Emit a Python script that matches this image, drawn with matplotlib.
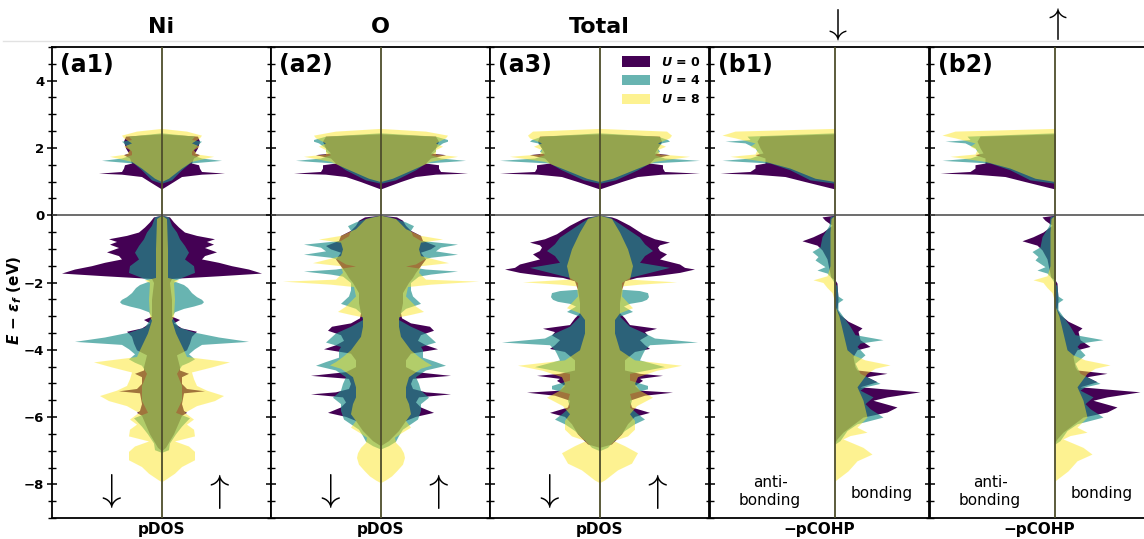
import matplotlib
matplotlib.use('Agg')
import matplotlib.pyplot as plt
from matplotlib.patches import Patch
from matplotlib.lines import Line2D
from matplotlib.ticker import MultipleLocator

plt.rcParams['mathtext.fontset'] = 'custom'
plt.rcParams['mathtext.rm'] = 'DejaVu Sans:bold'
plt.rcParams['mathtext.it'] = 'DejaVu Sans:italic:bold'
plt.rcParams['mathtext.bf'] = 'DejaVu Sans:bold'

# ---------------- data (energies in eV, DOS / COHP in arbitrary units) ----------------
U_VALUES = [0, 4, 8]
COLORS = ['#440154', '#21918c', '#fde725']
ALPHAS = [1.0, 0.68, 0.5]

# conduction band energy grids (shared by the panels)
CB_E0 = [2.42, 2.35, 2.2, 2.0, 1.85, 1.8, 1.7, 1.55, 1.5, 1.4, 1.3, 1.25, 1.22, 1.15, 1.0, 0.78]
CB_E4 = [2.45, 2.35, 2.25, 2.2, 2.15, 2.0, 1.9, 1.8, 1.7, 1.63, 1.55, 1.35, 1.05, 0.95]
CB_E8 = [2.58, 2.5, 2.38, 2.3, 2.15, 2.05, 1.95, 1.82, 1.75, 1.6, 1.4, 1.1, 1.0]

# --- Ni pDOS
NI_CB0 = [0, 36, 38, 36, 33, 38, 32, 30, 37, 38, 40, 63, 40, 20, 12, 0]
NI_CB4 = [0, 33, 30, 40, 38, 33, 30, 30, 40, 60, 28, 20, 10, 0]
NI_CB8 = [0, 25, 40, 38, 30, 38, 32, 35, 52, 30, 20, 7, 0]
NI_VB_E0 = [0.0, -0.05, -0.2, -0.35, -0.5, -0.6, -0.7, -0.78, -0.86, -0.96, -1.09, -1.2, -1.3, -1.4, -1.5,
            -1.6, -1.72, -1.8, -1.88, -2.0, -2.5, -3.0, -3.1, -3.2, -3.35, -3.45, -3.6, -3.8, -4.0, -4.15,
            -4.5, -4.6, -4.7, -4.8, -5.0, -5.15, -5.22, -5.28, -5.6, -5.8, -5.86, -5.95, -6.5, -6.9, -7.0]
NI_VB0 = [0, 8, 12, 17, 23, 35, 53, 45, 52, 43, 55, 43, 40, 57, 70,
          87, 100, 57, 10, 8, 10, 10, 18, 12, 20, 35, 30, 28, 25, 15,
          18, 18, 27, 20, 20, 25, 43, 22, 20, 22, 25, 20, 12, 4, 0]
NI_VB_E4 = [0.0, -0.05, -0.3, -0.5, -0.7, -0.9, -1.1, -1.3, -1.5, -1.7, -1.85, -1.95, -2.06, -2.15, -2.3,
            -2.42, -2.5, -2.57, -2.63, -2.7, -2.77, -2.87, -3.02, -3.32, -3.47, -3.62, -3.75, -3.84, -3.97,
            -4.12, -4.27, -4.37, -4.46, -4.7, -5.06, -5.5, -5.86, -6.02, -6.27, -6.5, -6.77, -6.97, -7.05]
NI_VB4 = [0, 7, 10, 15, 18, 23, 27, 23, 32, 33, 20, 12, 22, 26, 30,
          35, 40, 42, 40, 32, 22, 13, 10, 17, 32, 57, 87, 40, 33,
          27, 33, 27, 20, 15, 20, 20, 14, 28, 20, 14, 8, 7, 0]
NI_VB_E8 = [0.0, -0.1, -1.0, -1.85, -1.93, -2.0, -2.5, -3.0, -3.12, -3.5, -4.0, -4.2, -4.36, -4.51, -4.66,
            -4.86, -5.06, -5.2, -5.36, -5.51, -5.66, -5.86, -6.06, -6.21, -6.36, -6.56, -6.71, -6.86, -7.02,
            -7.27, -7.47, -7.67, -7.87, -7.92]
NI_VB8 = [0, 5, 6, 6, 17, 12, 13, 12, 10, 14, 22, 25, 68, 50, 30,
          32, 35, 45, 62, 53, 35, 23, 32, 25, 32, 33, 13, 27, 33,
          33, 20, 13, 3, 0]

# --- O pDOS
O_CB0 = [0, 55, 58, 55, 50, 65, 50, 45, 58, 58, 60, 87, 55, 35, 20, 0]
O_CB4 = [0, 55, 67, 67, 62, 55, 55, 50, 60, 85, 45, 35, 15, 0]
O_CB8 = [0, 45, 67, 65, 55, 62, 55, 55, 77, 50, 35, 12, 0]
O_VB_E0 = [0.0, -0.05, -0.15, -0.3, -0.45, -0.6, -0.75, -0.9, -1.0, -1.1, -1.3, -1.5, -1.7, -1.85, -2.0,
           -2.3, -2.6, -2.9, -3.05, -3.2, -3.3, -3.42, -3.55, -3.72, -3.85, -3.97, -4.1, -4.3, -4.5, -4.65,
           -4.76, -4.85, -5.0, -5.15, -5.25, -5.31, -5.4, -5.55, -5.7, -5.86, -5.98, -6.1, -6.4, -6.7, -6.85]
O_VB0 = [0, 16, 22, 25, 30, 40, 42, 55, 50, 40, 45, 40, 35, 32, 28,
         22, 22, 20, 21, 30, 49, 53, 40, 37, 45, 57, 30, 25, 25, 35,
         70, 32, 30, 32, 45, 70, 38, 35, 40, 53, 35, 25, 18, 8, 0]
O_VB_E4 = [0.0, -0.05, -0.2, -0.31, -0.45, -0.61, -0.75, -0.86, -0.95, -1.06, -1.16, -1.25, -1.31, -1.45,
           -1.51, -1.6, -1.66, -1.75, -1.81, -2.0, -2.22, -2.4, -2.62, -2.77, -2.9, -3.1, -3.3, -3.5, -3.77,
           -3.9, -4.0, -4.22, -4.35, -4.46, -4.6, -4.8, -5.0, -5.2, -5.41, -5.6, -5.8, -6.06, -6.2, -6.36,
           -6.55, -6.72, -6.85, -6.95]
O_VB4 = [0, 10, 25, 33, 30, 32, 40, 77, 60, 55, 77, 50, 43, 35,
         25, 45, 77, 50, 38, 30, 30, 32, 40, 25, 20, 18, 30, 45, 55,
         40, 42, 42, 55, 65, 45, 35, 38, 40, 48, 40, 40, 37, 30, 22,
         18, 15, 8, 0]
O_VB_E8 = [0.0, -0.1, -0.4, -0.6, -0.71, -0.8, -1.0, -1.2, -1.41, -1.5, -1.7, -1.9, -1.96, -2.05, -2.12,
           -2.4, -2.7, -2.86, -2.95, -3.02, -3.3, -3.6, -4.0, -4.2, -4.35, -4.45, -4.55, -4.8, -5.1, -5.4,
           -5.6, -5.9, -6.1, -6.3, -6.46, -6.6, -6.75, -6.9, -7.06, -7.2, -7.4, -7.6, -7.75, -7.87, -7.95]
O_VB8 = [0, 15, 25, 40, 62, 40, 38, 40, 68, 40, 38, 45, 98, 50, 27,
         25, 35, 43, 30, 18, 18, 20, 30, 38, 45, 51, 40, 28, 25, 25,
         28, 30, 25, 30, 21, 14, 15, 20, 23, 24, 22, 16, 11, 5, 0]

# --- Total DOS
TOT_CB0 = [0, 60, 62, 58, 55, 70, 55, 50, 63, 63, 65, 100, 62, 38, 22, 0]
TOT_CB4 = [0, 58, 68, 70, 62, 58, 60, 55, 65, 100, 50, 38, 16, 0]
TOT_CB8 = [0, 67, 72, 70, 58, 66, 58, 60, 90, 55, 38, 13, 0]
TOT_VB_E0 = [0.0, -0.05, -0.1, -0.3, -0.55, -0.7, -0.8, -0.88, -0.95, -1.05, -1.15, -1.3, -1.45, -1.55,
             -1.6, -1.7, -1.78, -1.85, -1.95, -2.2, -2.6, -2.9, -3.05, -3.25, -3.36, -3.46, -3.56, -3.7,
             -3.85, -3.96, -4.05, -4.3, -4.6, -4.7, -4.76, -4.85, -4.91, -5.06, -5.2, -5.26, -5.35, -5.5,
             -5.7, -5.86, -5.98, -6.2, -6.5, -6.8, -6.9]
TOT_VB0 = [0, 12, 17, 30, 43, 55, 70, 60, 58, 60, 67, 60, 80, 85,
           95, 80, 60, 37, 25, 22, 20, 20, 25, 30, 57, 45, 48, 40,
           45, 50, 35, 25, 25, 40, 63, 40, 43, 35, 40, 73, 45, 30,
           32, 50, 35, 28, 22, 12, 0]
TOT_VB_E4 = [0.0, -0.05, -0.25, -0.45, -0.65, -0.85, -1.05, -1.2, -1.4, -1.55, -1.7, -1.85, -2.0, -2.2,
             -2.24, -2.3, -2.42, -2.5, -2.56, -2.62, -2.7, -2.86, -3.0, -3.3, -3.5, -3.65, -3.77, -3.85,
             -4.0, -4.11, -4.3, -4.5, -4.7, -4.9, -5.06, -5.16, -5.3, -5.5, -5.7, -5.9, -6.06, -6.2, -6.4,
             -6.6, -6.77, -6.9, -7.0]
TOT_VB4 = [0, 10, 20, 30, 40, 45, 53, 45, 40, 70, 50, 30, 22, 22,
           40, 48, 49, 47, 42, 30, 24, 33, 20, 30, 45, 55, 98, 50,
           45, 43, 40, 65, 30, 30, 48, 48, 30, 32, 30, 38, 45, 35, 25,
           18, 12, 8, 0]
TOT_VB_E8 = [0.0, -0.1, -0.5, -1.0, -1.5, -1.9, -1.98, -2.05, -2.1, -2.4, -2.75, -2.9, -3.1, -3.5, -4.0,
             -4.3, -4.46, -4.61, -4.8, -5.0, -5.2, -5.41, -5.66, -5.9, -6.1, -6.36, -6.56, -6.7, -6.85,
             -7.06, -7.37, -7.57, -7.87, -7.95]
TOT_VB8 = [0, 12, 20, 28, 33, 30, 77, 40, 23, 22, 33, 20, 15, 15, 20,
           35, 82, 57, 38, 35, 40, 53, 37, 30, 35, 35, 28, 14, 25,
           38, 32, 18, 5, 0]

# --- -pCOHP (identical for both spin channels)
COHP_CB0 = [0, -75, -78, -75, -72, -80, -70, -70, -80, -80, -85, -115, -80, -50, -30, 0]
COHP_CB4 = [0, -88, -85, -110, -90, -80, -78, -75, -85, -113, -65, -45, -25, 0]
COHP_CB8 = [0, -100, -113, -100, -80, -85, -78, -80, -105, -70, -45, -20, 0]
COHP_VB_E0 = [0.0, -0.05, -0.15, -0.3, -0.5, -0.64, -0.76, -0.89, -1.03, -1.3, -1.6, -1.85, -1.92, -2.02,
              -2.5, -2.8, -2.95, -3.15, -3.35, -3.45, -3.7, -3.9, -4.0, -4.2, -4.5, -4.6, -4.7, -4.8,
              -4.95, -5.1, -5.25, -5.4, -5.5, -5.7, -5.85, -6.0, -6.45, -6.65, -6.75]
COHP_VB0 = [0, -13, -10, -3, -12, -22, -33, -18, -13, -8, -6, -4, 0, 2,
            3, 2, 5, 13, 27, 23, 25, 35, 22, 18, 20, 22, 52, 32,
            42, 25, 85, 52, 38, 62, 52, 28, 8, 2, 0]
COHP_VB_E4 = [0.0, -0.05, -0.3, -0.64, -0.94, -1.08, -1.23, -1.33, -1.53, -1.63, -1.72, -1.85, -1.95,
              -2.1, -2.4, -2.5, -2.6, -2.8, -3.3, -3.55, -3.7, -3.8, -3.9, -4.15, -4.4, -4.7, -5.0, -5.1,
              -5.2, -5.4, -5.6, -5.75, -6.0, -6.2, -6.4, -6.7, -6.8]
COHP_VB4 = [0, -5, -6, -13, -15, -23, -17, -20, -10, -18, -8, -4, -2,
            2, 3, 8, 3, 3, 15, 20, 48, 25, 22, 30, 20, 25, 45, 30,
            25, 38, 30, 35, 48, 22, 12, 5, 0]
COHP_VB_E8 = [0.0, -0.1, -0.5, -1.0, -1.5, -1.8, -1.92, -2.0, -2.15, -2.3, -2.5, -2.7, -3.0, -3.5, -4.0,
              -4.15, -4.3, -4.45, -4.55, -4.7, -5.1, -5.5, -6.0, -6.3, -6.45, -6.55, -6.65, -6.9, -7.1,
              -7.3, -7.6, -7.85, -7.9]
COHP_VB8 = [0, -4, -5, -5, -5, -8, -22, -12, -8, -3, -1, 0, 4, 8, 12,
            18, 30, 55, 40, 32, 22, 28, 32, 22, 32, 15, 8, 28, 37,
            22, 13, 2, 0]

PANEL_TITLES = ['Ni', 'O', 'Total', r'$\downarrow$', r'$\uparrow$']
PANEL_TAGS = ['(a1)', '(a2)', '(a3)', '(b1)', '(b2)']
YTICKS = [-8, -6, -4, -2, 0, 2, 4]

# ---------------- figure ----------------
W, H = 1144, 539
fig = plt.figure(figsize=(W / 100, H / 100), dpi=100)

lefts = [52, 271, 490, 710, 930]
pw = 219
bot, top = 518, 47
axes = []
for i, l in enumerate(lefts):
    ax = fig.add_axes([l / W, 1 - bot / H, pw / W, (bot - top) / H])
    axes.append(ax)

CB_E = [CB_E0, CB_E4, CB_E8]
dos_sets = [
    ([NI_CB0, NI_CB4, NI_CB8], [NI_VB_E0, NI_VB_E4, NI_VB_E8], [NI_VB0, NI_VB4, NI_VB8]),
    ([O_CB0, O_CB4, O_CB8], [O_VB_E0, O_VB_E4, O_VB_E8], [O_VB0, O_VB4, O_VB8]),
    ([TOT_CB0, TOT_CB4, TOT_CB8], [TOT_VB_E0, TOT_VB_E4, TOT_VB_E8], [TOT_VB0, TOT_VB4, TOT_VB8]),
]
cohp_set = ([COHP_CB0, COHP_CB4, COHP_CB8], [COHP_VB_E0, COHP_VB_E4, COHP_VB_E8],
            [COHP_VB0, COHP_VB4, COHP_VB8])

line_col = '#4e4e2c'

for i, ax in enumerate(axes):
    if i < 3:
        cbw, vbe, vbw = dos_sets[i]
        for k in range(3):
            e = CB_E[k] + vbe[k]
            w = cbw[k] + vbw[k]
            # spin down to the left, spin up to the right (mirror)
            ax.fill_betweenx(e, [-v for v in w], w, color=COLORS[k], alpha=ALPHAS[k],
                             lw=0, zorder=1 + k)
        ax.set_xlim(-109.5, 109.5)
        ax.set_xlabel('pDOS', fontsize=11, fontweight='bold', labelpad=3)
        ax.text(-53, -8.2, r'$\downarrow$', fontsize=28, ha='center', va='center',
                math_fontfamily='cm', zorder=6)
        ax.text(55, -8.2, r'$\uparrow$', fontsize=28, ha='center', va='center',
                math_fontfamily='cm', zorder=6)
    else:
        cbw, vbe, vbw = cohp_set
        for k in range(3):
            e = CB_E[k] + vbe[k]
            w = cbw[k] + vbw[k]
            ax.fill_betweenx(e, 0, w, color=COLORS[k], alpha=ALPHAS[k], lw=0, zorder=1 + k)
        ax.set_xlim(-125, 94)
        ax.set_xlabel('\u2212pCOHP', fontsize=11, fontweight='bold', labelpad=3)
        ax.text(-65, -8.2, 'anti-\nbonding', fontsize=11, ha='center', va='center',
                linespacing=1.25, zorder=6)
        ax.text(47, -8.27, 'bonding', fontsize=11, ha='center', va='center', zorder=6)

    ax.axvline(0, color=line_col, lw=1.3, zorder=5)
    ax.axhline(0, color='#454545', lw=1.1, zorder=5)
    ax.set_ylim(-9, 5)
    ax.set_xticks([])
    ax.yaxis.set_major_locator(MultipleLocator(2))
    ax.yaxis.set_minor_locator(MultipleLocator(0.5))
    ax.tick_params(axis='y', which='major', direction='inout', length=7, width=1.1, pad=2)
    ax.tick_params(axis='y', which='minor', direction='inout', length=6, width=1.0)
    for s in ax.spines.values():
        s.set_linewidth(1.3)
        s.set_color('black')
    if i == 0:
        ax.set_yticks(YTICKS)
        ax.set_yticklabels([str(t).replace('-', '\u2212') for t in YTICKS],
                           fontsize=9.5, fontweight='bold')
    else:
        ax.tick_params(axis='y', labelleft=False)

    ax.text(0.035, 0.988, PANEL_TAGS[i], transform=ax.transAxes, fontsize=17,
            fontweight='bold', ha='left', va='top', zorder=7)

    # column titles
    cx = lefts[i] + pw * (0 - ax.get_xlim()[0]) / (ax.get_xlim()[1] - ax.get_xlim()[0])
    if i < 3:
        fig.text(cx / W, 1 - 27 / H, PANEL_TITLES[i], fontsize=16, fontweight='bold',
                 ha='center', va='center')
    else:
        fig.text(cx / W, 1 - 24 / H, PANEL_TITLES[i], fontsize=26, ha='center',
                 va='center', math_fontfamily='cm')

# legend in the Total panel
handles = [Patch(facecolor=COLORS[k], alpha=ALPHAS[k], edgecolor='none') for k in range(3)]
labels = [r'$U$ = %d' % u for u in U_VALUES]
axes[2].legend(handles, labels, loc='upper right', frameon=False,
               prop={'weight': 'bold', 'size': 9}, handlelength=2.2, handleheight=0.9,
               borderaxespad=0.3, labelspacing=0.45, handletextpad=0.9)

fig.text(15 / W, 1 - 300 / H, r'$E$ $-$ $\epsilon_f$ (eV)', rotation=90, fontsize=11,
         fontweight='bold', ha='center', va='center')

fig.add_artist(Line2D([3 / W, 1.0], [1 - 41 / H, 1 - 41 / H], color='#e2e2e2', lw=1.0))

fig.savefig('out.png', dpi=100)
